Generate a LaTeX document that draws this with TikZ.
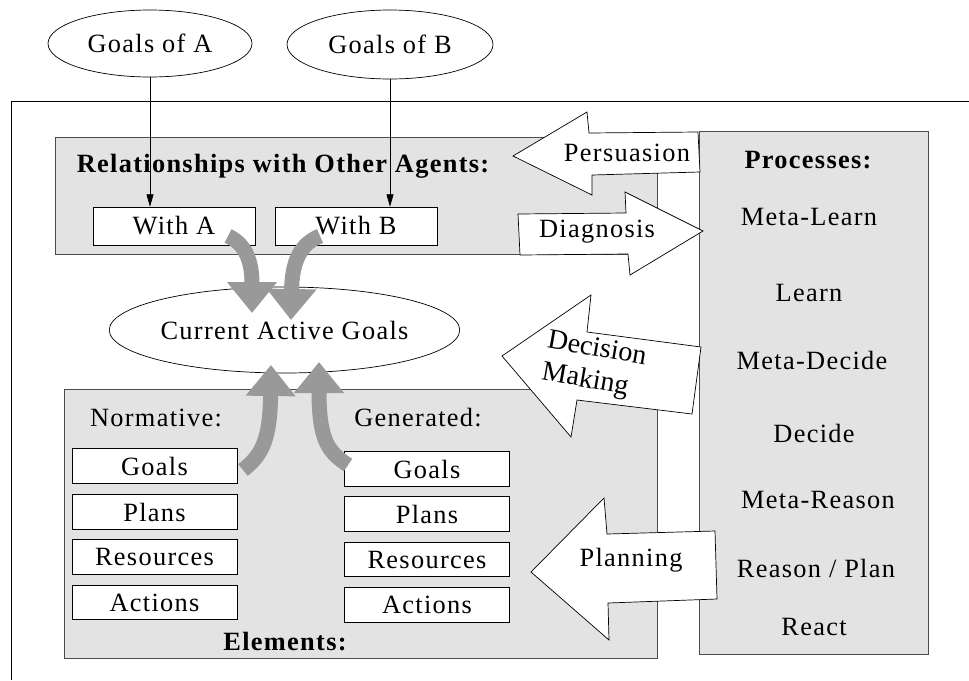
\documentclass[tikz,border=0pt]{standalone}
\usepackage{fontspec}
\setmainfont{Liberation Serif}[LetterSpace=5]
\usetikzlibrary{arrows.meta, calc, positioning, shapes.geometric}
\definecolor{boxgray}{gray}{0.89}
\definecolor{arrgray}{gray}{0.6}
\definecolor{edgegray}{gray}{0.3}

\begin{document}
\begin{tikzpicture}
[
	x=0.02cm, y=-0.02cm,
	font=\fontsize{15}{18}\selectfont,
	el/.style={ellipse,draw,thin,fill=white,inner sep=0},
	sq/.style={rectangle,draw,thin,fill=white,inner sep=0,minimum height=0.69cm,minimum width=3.3cm},
	panel/.style={rectangle,draw=edgegray,thin,fill=boxgray,inner sep=0},
	blk/.style={draw,thin,fill=white,line join=miter},
	txt/.style={inner sep=0},
	greyarc/.style={draw=arrgray,line width=0.3cm,-{Triangle[width=0.96cm,length=0.62cm]}},
	thinarr/.style={-{Triangle[width=4pt,length=7pt]}}
]

\useasboundingbox (0,0) rectangle (969,680);

\draw (969,101) -- (11,101) -- (11,680);

% panels
\node[panel,minimum width=12.04cm,minimum height=2.34cm] (rel) at (356,195.5) {};
\node[panel,minimum width=11.86cm,minimum height=5.38cm] (elem) at (360.5,523.5) {};
\node[panel,minimum width=4.58cm,minimum height=10.46cm] (proc) at (813.5,392.5) {};

% goals
\node[el,minimum width=4.08cm,minimum height=1.34cm] (ga) at (150,43.5) {Goals of A};
\node[el,minimum width=4.12cm,minimum height=1.38cm] (gb) at (390,44.5) {Goals of B};
\node[el,minimum width=6.02cm,minimum height=1.72cm] (cag) at (284.5,330) {Current Active Goals};

\node[sq,minimum width=3.24cm,minimum height=0.76cm] (wa) at (174,226) {With A};
\node[sq,minimum width=3.24cm,minimum height=0.76cm] (wb) at (356,226) {With B};

\node[sq] (n1) at (154.5,466) {Goals};
\node[sq] (n2) at (154.5,512) {Plans};
\node[sq] (n3) at (154.5,557) {Resources};
\node[sq] (n4) at (154.5,602.5) {Actions};

\node[sq] (g1) at (427,469) {Goals};
\node[sq] (g2) at (427,514) {Plans};
\node[sq] (g3) at (427,559.5) {Resources};
\node[sq] (g4) at (427,605) {Actions};

\draw[thinarr] (ga.south) -- (ga.south |- wa.north);
\draw[thinarr] (gb.south) -- (gb.south |- wb.north);

% block arrows
\draw[blk] (513,156) -- (587,112) -- (589,133) -- (698,132) -- (700,172) -- (592,175) -- (592,195) -- cycle;
\draw[blk] (518,214) -- (626,213) -- (625,192) -- (703,231) -- (630,275) -- (628,254) -- (520,255) -- cycle;
\draw[blk] (502,356) -- (591,295) -- (587,332) -- (701,347) -- (692,414) -- (577,400) -- (571,437) -- cycle;
\draw[blk] (531,572) -- (604,498) -- (607,534) -- (715,531) -- (717,599) -- (608,603) -- (609,640) -- cycle;

\node[txt] (pers) at (627,153) {Persuasion};
\node[txt] (diag) at (597,232) {Diagnosis};
\node[txt] (plan) at (631,560) {Planning};
\node[txt,align=left,rotate=-10,font=\fontsize{16}{18.5}\selectfont\addfontfeature{LetterSpace=0}] (dm) at (594,366) {Decision\\Making};

% grey arcs
\draw[greyarc] (228,236) .. controls (246,244) and (252,262) .. (252,313);
\draw[greyarc] (320,236) .. controls (300,244) and (292,262) .. (291,320);
\draw[greyarc] (243,470) .. controls (262,455) and (270,440) .. (271,365);
\draw[greyarc] (348,465) .. controls (328,452) and (319,440) .. (319,362);

% labels
\node[txt,font=\fontsize{15}{18}\selectfont\bfseries] (relt) at (283,166) {Relationships with Other Agents:};
\node[txt] (norm) at (156,418) {Normative:};
\node[txt] (gen) at (418,418) {Generated:};
\node[txt,font=\fontsize{15}{18}\selectfont\bfseries] (elt) at (285,642) {Elements:};

\node[txt,font=\fontsize{15}{18}\selectfont\bfseries] (proct) at (808,160) {Processes:};
\node[txt] (p1) at (809,217) {Meta-Learn};
\node[txt] (p2) at (809,293) {Learn};
\node[txt] (p3) at (812,360) {Meta-Decide};
\node[txt] (p4) at (814,433) {Decide};
\node[txt] (p5) at (818,500) {Meta-Reason};
\node[txt] (p6) at (816,568) {Reason / Plan};
\node[txt] (p7) at (814,627) {React};

\end{tikzpicture}
\end{document}
